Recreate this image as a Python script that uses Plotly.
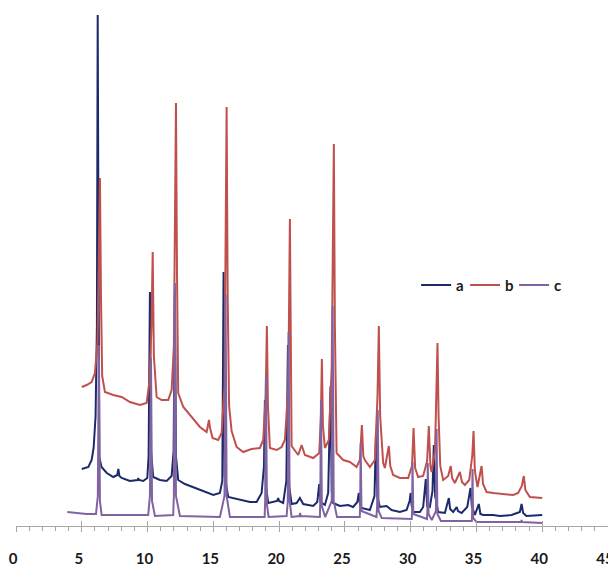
import plotly.graph_objects as go

# ---- series a (dark blue) ----
a_x = [5.0, 5.5, 5.75, 5.9, 6.05, 6.15, 6.21, 6.27, 6.33, 6.5, 6.9, 7.4, 7.7, 7.78, 7.86, 8.03, 8.66, 9.25, 9.3, 9.35,
       9.67, 9.98, 10.08, 10.18, 10.26, 10.43, 10.94, 11.45, 11.83, 11.98, 12.08, 12.16, 12.33, 12.84, 13.47, 13.98,
       14.49, 15.0, 15.5, 15.68, 15.78, 15.86, 16.13, 17.0, 17.78, 18.29, 18.67, 18.85, 18.92, 19.0, 19.17, 19.85,
       19.93, 20.0, 20.31, 20.55, 20.67, 20.76, 20.95, 21.33, 21.58, 21.83, 22.59, 22.9, 23.05, 23.15, 23.48, 23.73,
       23.91, 24.0, 24.11, 24.62, 25.25, 25.63, 25.95, 26.06, 26.15, 26.27, 26.9, 27.25, 27.36, 27.46, 27.66, 28.17,
       28.55, 29.18, 29.69, 29.92, 30.0, 30.08, 30.2, 30.7, 30.95, 31.15, 31.25, 31.46, 31.66, 31.76, 31.86, 32.09,
       32.6, 32.9, 33.0, 33.23, 33.5, 33.6, 33.87, 34.3, 34.55, 34.65, 34.88, 35.18, 35.3, 35.51, 36.27, 36.78,
       37.67, 38.3, 38.43, 38.55, 38.8, 40.0]
a_y = [57, 59, 66, 78, 110, 200, 511, 190, 69, 59, 53, 49, 51, 57, 50, 48, 45, 46, 48, 46,
       45, 48, 70, 234, 75, 49, 46, 45, 50, 75, 236, 70, 46, 42, 39, 36,
       34, 31, 33, 45, 254, 50, 29, 26, 24, 24, 33, 60, 126, 40, 23, 25,
       28, 25, 23, 45, 181, 40, 22, 23, 28, 22, 20, 24, 42, 24, 21, 33,
       140, 35, 23, 20, 21, 19, 24, 33, 22, 18, 16, 30, 91, 30, 19, 20,
       16, 14, 16, 25, 33, 20, 14, 14, 19, 47, 20, 19, 35, 81, 30, 14,
       13, 28, 17, 14, 19, 15, 13, 19, 38, 20, 11, 22, 12, 11, 11, 10,
       11, 14, 22, 13, 10, 11]

# ---- series b (red) ----
b_x = [5.0, 5.37, 5.75, 6.0, 6.2, 6.3, 6.38, 6.46, 6.55, 6.76, 7.39, 8.03, 8.66, 9.42, 9.93, 10.15, 10.3, 10.39,
       10.48, 10.69, 11.07, 11.57, 11.83, 12.0, 12.1, 12.16, 12.24, 12.33, 12.72, 13.35, 13.98, 14.49, 14.6, 14.67,
       14.75, 14.94, 15.37, 15.63, 15.85, 15.95, 16.01, 16.09, 16.2, 16.39, 16.77, 17.27, 17.9, 18.54, 18.79, 18.98,
       19.07, 19.15, 19.3, 19.81, 20.19, 20.44, 20.7, 20.82, 20.88, 20.95, 21.45, 21.71, 21.96, 22.59, 23.05, 23.18,
       23.25, 23.33, 23.48, 23.78, 24.0, 24.1, 24.16, 24.24, 24.37, 24.87, 25.38, 25.89, 26.14, 26.29, 26.4, 26.52,
       26.9, 27.28, 27.48, 27.58, 27.68, 27.91, 28.04, 28.34, 28.45, 28.67, 29.18, 29.81, 30.1, 30.22, 30.34, 30.57,
       30.95, 31.25, 31.38, 31.5, 31.59, 31.85, 31.97, 32.04, 32.12, 32.25, 32.47, 32.85, 33.05, 33.15, 33.36, 33.74,
       33.9, 34.12, 34.45, 34.68, 34.78, 34.88, 35.08, 35.39, 35.5, 35.77, 36.27, 37.03, 37.79, 38.17, 38.45, 38.6,
       38.72, 39.06, 40.0]
b_y = [139, 141, 144, 153, 185, 260, 348, 230, 150, 134, 131, 129, 124, 121, 123, 145, 200, 274,
       170, 129, 126, 126, 136, 180, 300, 423, 250, 133, 119, 109, 99, 94, 101, 106,
       98, 88, 86, 93, 140, 290, 419, 230, 120, 95, 79, 74, 77, 78, 86, 130,
       200, 120, 78, 76, 79, 86, 140, 307, 150, 80, 71, 81, 71, 68, 73, 110,
       167, 100, 78, 86, 160, 300, 382, 200, 73, 66, 64, 59, 66, 101, 70, 66,
       59, 66, 130, 200, 110, 63, 58, 80, 60, 51, 48, 48, 60, 98, 58, 49,
       50, 65, 100, 60, 54, 75, 140, 183, 110, 60, 46, 50, 60, 48, 43, 54,
       44, 41, 46, 70, 95, 55, 39, 60, 42, 34, 33, 32, 31, 33, 40, 50,
       36, 29, 28]

# ---- series c (purple) ----
c_x = [3.9, 4.61, 5.37, 6.08, 6.22, 6.3, 6.38, 6.51, 8.41, 10.05, 10.18, 10.26, 10.34, 10.56, 11.95, 12.0, 12.08,
       12.16, 12.46, 15.5, 15.85, 15.93, 16.01, 16.26, 18.9, 18.94, 19.0, 19.07, 19.2, 20.57, 20.66, 20.72, 20.8,
       20.95, 21.55, 21.6, 21.65, 23.1, 23.13, 23.18, 23.25, 23.5, 24.0, 24.07, 24.15, 24.4, 26.13, 26.16, 26.2,
       26.26, 27.4, 27.45, 27.5, 27.56, 27.8, 30.08, 30.11, 30.14, 30.2, 31.24, 31.27, 31.3, 31.36, 31.6, 31.92,
       31.97, 32.03, 32.3, 34.65, 34.67, 34.7, 34.75, 35.0, 38.4, 38.43, 38.46, 40.0]
c_y = [14, 13, 12, 12, 30, 181, 25, 11, 11, 11, 30, 168, 25, 10, 11, 30, 243,
       30, 10, 9, 30, 231, 30, 9, 9, 25, 152, 22, 9, 10, 25, 194, 25,
       9, 10, 13, 10, 9, 25, 126, 20, 9, 25, 220, 25, 9, 9, 20, 83,
       15, 9, 20, 116, 15, 8, 7, 15, 64, 12, 7, 15, 63, 12, 6, 15,
       97, 12, 5, 5, 12, 57, 8, 4, 4, 6, 4, 3]

names = ["a", "b", "c"]
colors = ["#1b2a6b", "#c0504d", "#8064a2"]
tick_vals = [0, 5, 10, 15, 20, 25, 30, 35, 40, 45]
tick_text = [str(v) for v in tick_vals]

fig = go.Figure()
for nm, xs, ys, col in zip(names, [a_x, b_x, c_x], [a_y, b_y, c_y], colors):
    fig.add_trace(go.Scatter(x=xs, y=ys, mode="lines", name=nm,
                             line=dict(color=col, width=2)))
# helper (empty) trace so the overlaid tick axis is rendered
fig.add_trace(go.Scatter(x=[], y=[], xaxis="x2", showlegend=False, hoverinfo="skip"))

fnt = dict(family="Lato, 'Open Sans', sans-serif", size=15, color="#1a1a1a", weight="bold")

fig.update_layout(
    width=616, height=567,
    margin=dict(l=8, r=16, t=0, b=49),
    paper_bgcolor="white", plot_bgcolor="white",
    showlegend=True,
    legend=dict(orientation="h", x=0.80, xanchor="center", y=0.465, yanchor="middle",
                font=dict(family="Lato, 'Open Sans', sans-serif", size=15, color="#1a1a1a", weight="bold"),
                bgcolor="rgba(0,0,0,0)", itemwidth=30, entrywidth=4, tracegroupgap=0),
    xaxis=dict(range=[0, 45], showline=True, linecolor="#a6a6a6", linewidth=1,
               ticks="outside", ticklen=5, tickcolor="#a6a6a6", tickwidth=1,
               tickvals=tick_vals, ticktext=tick_text, tickfont=fnt, ticklabelstandoff=14,
               ticklabelshift=-3,
               minor=dict(ticks="outside", dtick=1, ticklen=4, tickcolor="#a6a6a6", tickwidth=1),
               showgrid=False, zeroline=False),
    xaxis2=dict(range=[0, 45], overlaying="x", anchor="y", side="bottom",
                ticks="inside", ticklen=5, tickcolor="#a6a6a6", tickwidth=1,
                tickvals=tick_vals, showticklabels=False, showline=False,
                showgrid=False, zeroline=False),
    yaxis=dict(range=[0, 518], visible=False, showgrid=False, zeroline=False),
)

fig.write_html("out.html")
